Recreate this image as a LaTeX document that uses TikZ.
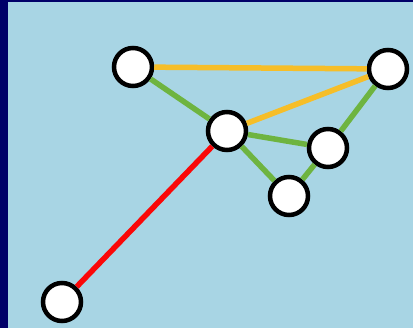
\documentclass[tikz,border=0pt]{standalone}
\begin{document}
\definecolor{skybg}{RGB}{168,213,228}
\definecolor{navyframe}{RGB}{0,0,104}
\definecolor{edgeyellow}{RGB}{246,190,40}
\definecolor{edgegreen}{RGB}{110,180,64}
\definecolor{edgered}{RGB}{250,8,8}
\begin{tikzpicture}[x=1pt,y=-1pt,
  vertex/.style={circle,draw=black,fill=white,line width=4.5pt,minimum size=38pt,inner sep=0pt},
  link/.style={line width=5.5pt},
  yellowlink/.style={link,draw=edgeyellow},
  greenlink/.style={link,draw=edgegreen},
  redlink/.style={link,draw=edgered}]
  % frame and backdrop
  \fill[navyframe] (0,0) rectangle (413,328);
  \fill[skybg] (8,2) rectangle (413,328);
  \useasboundingbox (0,0) rectangle (413,328);
  % vertices
  \node[vertex] (a) at (133,67) {};
  \node[vertex] (b) at (388,69) {};
  \node[vertex] (c) at (227,131) {};
  \node[vertex] (d) at (328,148) {};
  \node[vertex] (e) at (289,196) {};
  \node[vertex] (f) at (62,302) {};
  % edges, ending at the vertex borders
  \draw[yellowlink] (a) -- (b);
  \draw[yellowlink] (c) -- (b);
  \draw[greenlink] (a) -- (c);
  \draw[greenlink] (c) -- (d);
  \draw[greenlink] (c) -- (e);
  \draw[greenlink] (d) -- (b);
  \draw[greenlink] (e) -- (d);
  \draw[redlink] (c) -- (f);
\end{tikzpicture}
\end{document}
